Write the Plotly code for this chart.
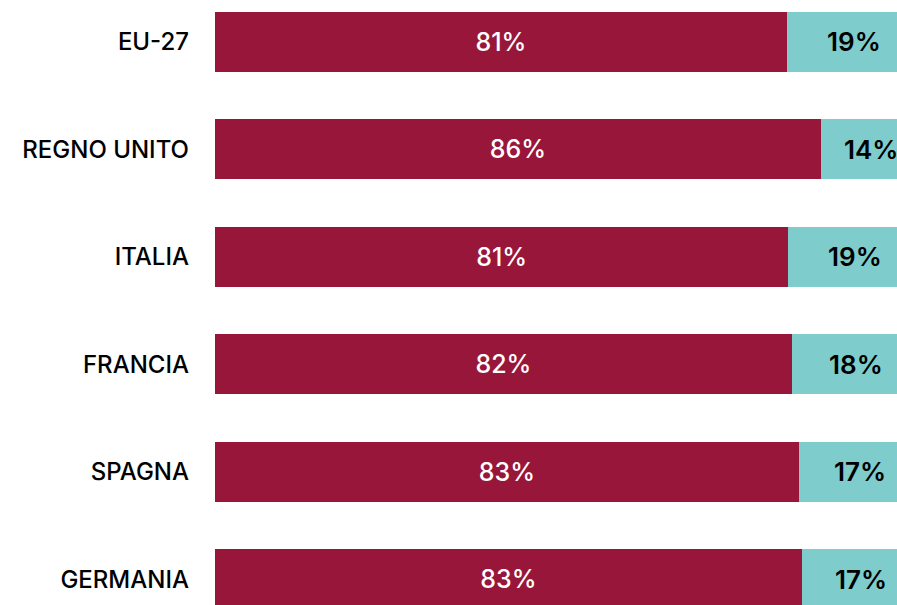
import plotly.graph_objects as go

countries = ["EU-27", "REGNO UNITO", "ITALIA", "FRANCIA", "SPAGNA", "GERMANIA"]
share_a = [81.0, 85.8, 81.2, 81.7, 82.7, 83.1]
share_b = [19.0, 14.2, 18.8, 18.3, 17.3, 16.9]
labels_a = ["81%", "86%", "81%", "82%", "83%", "83%"]
labels_b = ["19%", "14%", "19%", "18%", "17%", "17%"]

RED = "#98163A"
TEAL = "#7ECCCB"
FONT = "Inter, Roboto, sans-serif"

fig = go.Figure()
fig.add_trace(go.Bar(
    y=countries, x=share_a, orientation="h",
    marker=dict(color=RED, line=dict(width=0)),
    text=labels_a, textposition="inside", insidetextanchor="middle",
    textfont=dict(color="white", size=25, family=FONT, weight=500),
    width=0.56,
))
fig.add_trace(go.Bar(
    y=countries, x=share_b, orientation="h",
    marker=dict(color=TEAL, line=dict(width=0)),
    width=0.56,
))
# teal labels: the segment runs past the visible range, so place them as annotations
for c, a, b, lab in zip(countries, share_a, share_b, labels_b):
    fig.add_annotation(
        x=a + b / 2, y=c, text=lab, showarrow=False,
        font=dict(color="black", size=26, family=FONT, weight=600),
    )

fig.update_layout(
    barmode="stack",
    width=897, height=605,
    margin=dict(l=215, r=0, t=0, b=0),
    paper_bgcolor="white", plot_bgcolor="white",
    showlegend=False,
    xaxis=dict(range=[0, 96.6], visible=False, fixedrange=True),
    yaxis=dict(
        type="category", categoryorder="array", categoryarray=countries,
        range=[5.24, -0.39], showgrid=False, zeroline=False, showline=False,
        ticks="", ticklabelstandoff=25,
        tickfont=dict(color="black", size=24, family=FONT, weight=500),
    ),
)

fig.write_html("out.html", config={"displayModeBar": False},
               post_script="document.body.style.margin='0';")
